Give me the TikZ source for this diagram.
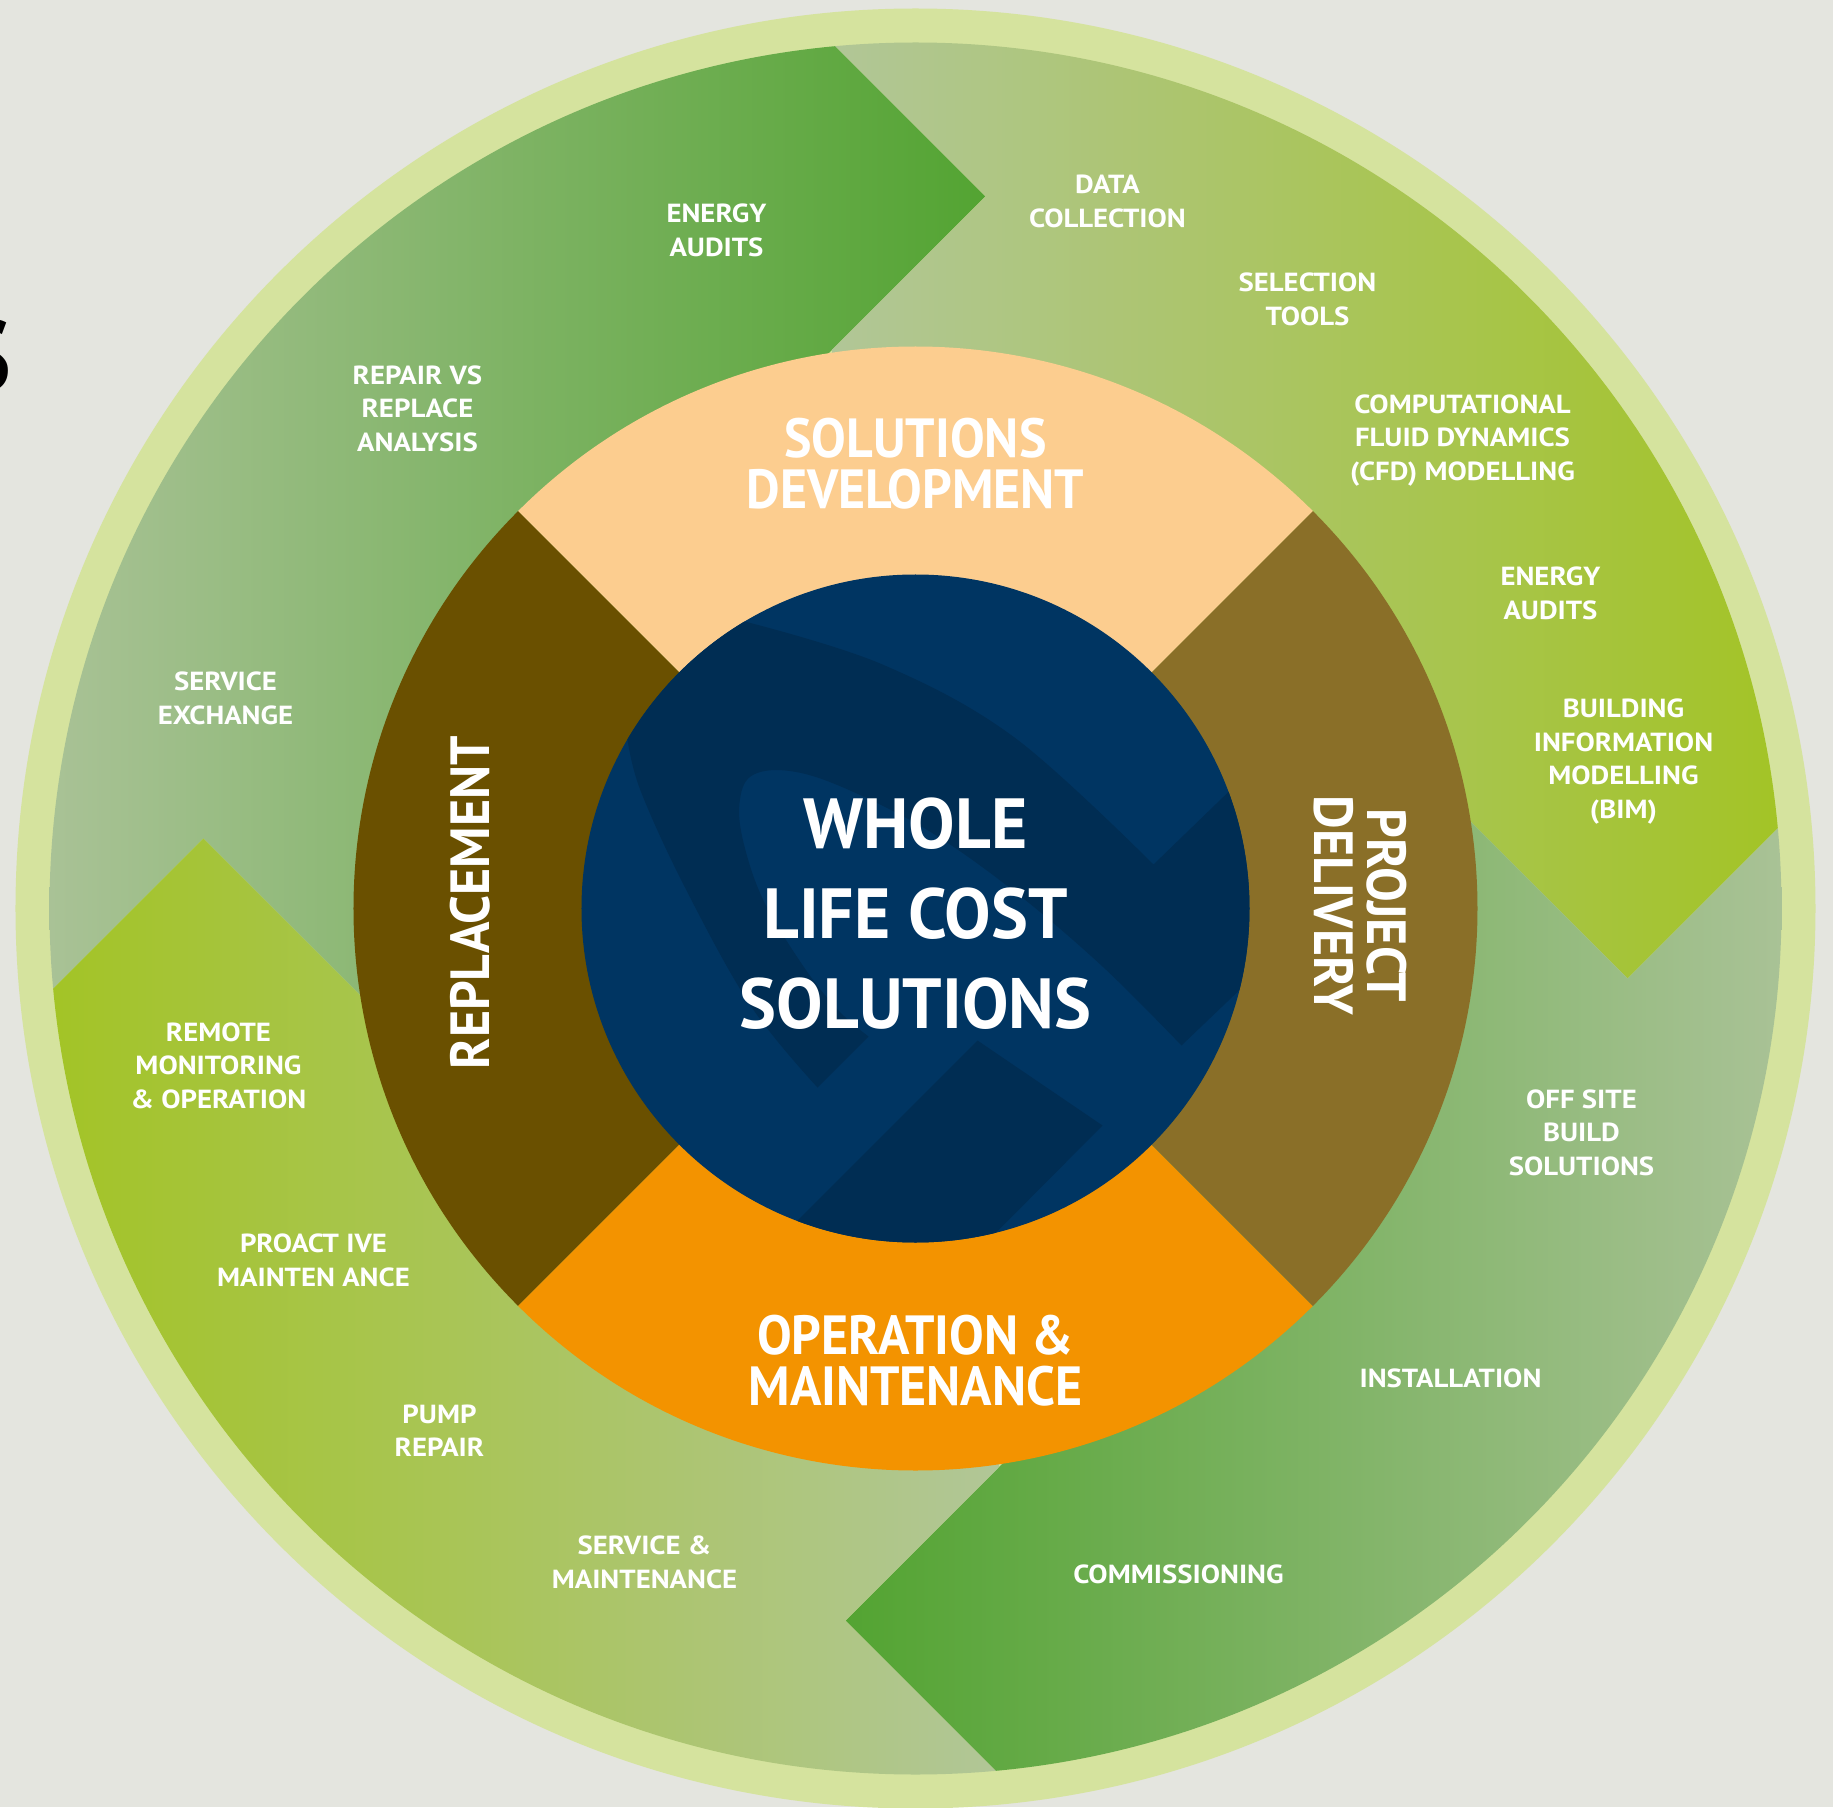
\documentclass[tikz,border=0pt]{standalone}
\usepackage{fontspec}
\setmainfont{PT Sans}
\newfontfamily\labelfont{PT Sans}[FakeStretch=1.10]
\newfontfamily\phasefont{PT Sans}[FakeStretch=0.94]
\newfontfamily\corefont{PT Sans}[FakeStretch=0.98]

\definecolor{paper}{HTML}{E4E5DF}
\definecolor{ringlight}{HTML}{D5E39E}
\definecolor{sagegreen}{HTML}{A9C296}
\definecolor{sagepale}{HTML}{B1C697}
\definecolor{leafgreen}{HTML}{53A432}
\definecolor{limegreen}{HTML}{A3C426}
\definecolor{peach}{HTML}{FCCD8F}
\definecolor{ochre}{HTML}{8A6F28}
\definecolor{amber}{HTML}{F39300}
\definecolor{umber}{HTML}{6A5000}
\definecolor{navy}{HTML}{003562}
\definecolor{navydark}{HTML}{002D53}

\begin{document}
\begin{tikzpicture}[
  svc/.style={text=white, align=center, inner sep=0pt,
    font=\labelfont\bfseries\fontsize{7.45}{9.5}\selectfont},
  phase/.style={text=white, align=center, inner sep=0pt,
    font=\phasefont\bfseries\fontsize{15.7}{14.6}\selectfont},
  phasewide/.style={phase, font=\phasefont\bfseries\fontsize{15.7}{15.3}\selectfont},
  core/.style={text=white, align=center, inner sep=0pt,
    font=\corefont\bfseries\fontsize{20.2}{25.6}\selectfont}
]
  % page and paper
  \useasboundingbox (-9.155,-8.985) rectangle (9.175,9.085);
  \clip (-9.155,-8.985) rectangle (9.175,9.085);
  \fill[paper] (-9.155,-8.985) rectangle (9.175,9.085);

  % cut off title letter on the left
  \node[anchor=east, inner sep=0pt, text=black,
    font=\bfseries\fontsize{29}{30}\selectfont] (titleS) at (-9.035,5.53) {S};

  % outer light ring
  \fill[ringlight] (0,0) circle (9.0);

  % arrow tips and their arms
  \coordinate (tipN) at (0.70,7.12);
  \coordinate (tipE) at (7.12,-0.70);
  \coordinate (tipS) at (-0.70,-7.12);
  \coordinate (tipW) at (-7.12,0.70);
  \coordinate (outN) at (-2.30,10.12);  \coordinate (inN) at (-2.30,4.12);
  \coordinate (outE) at (10.12,2.30);   \coordinate (inE) at (4.12,2.30);
  \coordinate (outS) at (2.30,-10.12);  \coordinate (inS) at (2.30,-4.12);
  \coordinate (outW) at (-10.12,-2.30); \coordinate (inW) at (-4.12,-2.30);

  % top left arrow
  \begin{scope}
    \clip (0,0) circle (8.66);
    \clip (outW) -- (tipW) -- (inW) -- (0,0) -- (inN) -- (tipN) -- (outN) -- (-10.12,10.12) -- cycle;
    \shade[left color=sagegreen, right color=leafgreen] (-8.66,-9) rectangle (0.70,9);
  \end{scope}

  % top right arrow
  \begin{scope}
    \clip (0,0) circle (8.66);
    \clip (outN) -- (tipN) -- (inN) -- (0,0) -- (inE) -- (tipE) -- (outE) -- (10.12,10.12) -- cycle;
    \shade[left color=sagepale, right color=limegreen] (-0.83,-9) rectangle (8.66,9);
  \end{scope}

  % bottom right arrow
  \begin{scope}
    \clip (0,0) circle (8.66);
    \clip (outE) -- (tipE) -- (inE) -- (0,0) -- (inS) -- (tipS) -- (outS) -- (10.12,-10.12) -- cycle;
    \shade[left color=leafgreen, right color=sagegreen] (-0.70,-9) rectangle (8.66,9);
  \end{scope}

  % bottom left arrow
  \begin{scope}
    \clip (0,0) circle (8.66);
    \clip (outS) -- (tipS) -- (inS) -- (0,0) -- (inW) -- (tipW) -- (outW) -- (-10.12,-10.12) -- cycle;
    \shade[left color=limegreen, right color=sagepale] (-8.66,-9) rectangle (0.83,9);
  \end{scope}

  % four phases
  \fill[peach] (0,0) -- (45:5.62) arc (45:135:5.62) -- cycle;
  \fill[umber] (0,0) -- (135:5.62) arc (135:225:5.62) -- cycle;
  \fill[amber] (0,0) -- (225:5.62) arc (225:315:5.62) -- cycle;
  \fill[ochre] (0,0) -- (-45:5.62) arc (-45:45:5.62) -- cycle;

  % centre disc with the logo swoosh
  \fill[navy] (0,0) circle (3.34);
  \begin{scope}
    \clip (0,0) circle (3.34);
    \fill[navydark] (-2.31,2.99)
      -- plot[smooth, tension=0.6] coordinates {(-1.67,2.86) (-0.33,2.44) (0.99,1.71) (2.38,0.44)}
      -- (3.63,1.65) -- (3.81,-0.27) -- (2.66,-1.37)
      -- plot[smooth, tension=0.6] coordinates {(2.66,-1.37) (1.87,-0.58) (0.99,0.17) (0.11,0.79)
           (-0.77,1.23) (-1.30,1.38) (-1.65,1.32) (-1.76,1.05) (-1.72,0.66) (-1.52,0.08)
           (-1.12,-0.58) (-0.77,-1.02) (-0.47,-1.28)}
      -- (-0.98,-1.79)
      -- plot[smooth, tension=0.6] coordinates {(-0.98,-1.79) (-1.65,-0.97) (-2.31,0.22) (-2.75,1.18) (-2.88,1.69)}
      -- (-3.23,2.06) -- cycle;
    \fill[navydark] (-1.63,-3.57) -- (0.62,-1.32) -- (1.87,-2.17) -- (0.37,-3.68) -- cycle;
  \end{scope}

  % centre and phase labels
  \node[core] (wlc) at (0,-0.05) {WHOLE\\LIFE COST\\SOLUTIONS};
  \node[phase] (develop) at (0,4.45) {SOLUTIONS\\DEVELOPMENT};
  \node[phase] (operate) at (0,-4.52) {OPERATION \&\\MAINTENANCE};
  \node[phasewide, rotate=90] (replace) at (-4.45,0.06) {REPLACEMENT};
  \node[phasewide, rotate=-90] (deliver) at (4.45,0.03) {PROJECT\\DELIVERY};

  % services round the ring
  \node[svc] (auditsW) at (-1.99,6.78) {ENERGY\\AUDITS};
  \node[svc] (repair) at (-4.98,5.00) {REPAIR VS\\REPLACE\\ANALYSIS};
  \node[svc] (data) at (1.92,7.07) {DATA\\COLLECTION};
  \node[svc] (selection) at (3.92,6.09) {SELECTION\\TOOLS};
  \node[svc] (cfd) at (5.47,4.68) {COMPUTATIONAL\\FLUID DYNAMICS\\(CFD) MODELLING};
  \node[svc] (auditsE) at (6.35,3.15) {ENERGY\\AUDITS};
  \node[svc] (bim) at (7.08,1.47) {BUILDING\\INFORMATION\\MODELLING\\(BIM)};
  \node[svc] (offsite) at (6.66,-2.24) {OFF SITE\\BUILD\\SOLUTIONS};
  \node[svc] (install) at (5.35,-4.70) {INSTALLATION};
  \node[svc] (commission) at (2.63,-6.66) {COMMISSIONING};
  \node[svc] (servmaint) at (-2.71,-6.54) {SERVICE \&\\MAINTENANCE};
  \node[svc] (pump) at (-4.76,-5.22) {PUMP\\REPAIR};
  \node[svc] (proactive) at (-6.02,-3.52) {PROACT IVE\\MAINTEN ANCE};
  \node[svc] (remote) at (-6.97,-1.57) {REMOTE\\MONITORING\\\& OPERATION};
  \node[svc] (exchange) at (-6.90,2.10) {SERVICE\\EXCHANGE};
\end{tikzpicture}
\end{document}
